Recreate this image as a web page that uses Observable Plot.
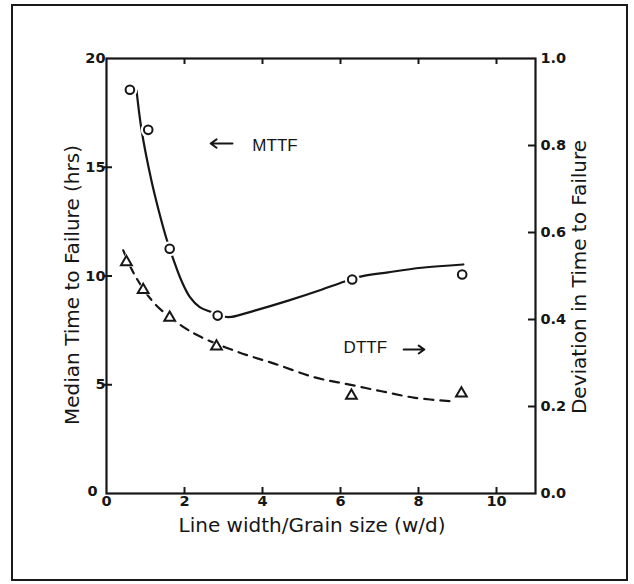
<!DOCTYPE html>
<html><head><meta charset="utf-8">
<script src="https://cdn.jsdelivr.net/npm/d3@7"></script>
<script src="https://cdn.jsdelivr.net/npm/@observablehq/plot@0.6"></script>
<style>
body{margin:0;background:#fff;}
#wrap{position:relative;width:634px;height:584px;background:#fff;}
#box{position:absolute;left:11px;top:4px;width:617px;height:577px;border:2.5px solid #1a1a1a;box-sizing:border-box;pointer-events:none;}
</style></head><body>
<div id="wrap"><div id="box"></div></div>
<script>
// Measured points
const mttfX = [0.60, 1.07, 1.62, 2.85, 6.30, 9.12];
const mttfY = [18.56, 16.72, 11.25, 8.18, 9.84, 10.07];      // hrs (left axis)
const dttfX = [0.51, 0.94, 1.62, 2.82, 6.28, 9.10];
const dttfY = [0.532, 0.468, 0.404, 0.338, 0.225, 0.230];    // deviation (right axis)

// Hand-drawn fit curves
const mttfFitX = [0.77, 0.90, 1.15, 1.34, 1.54, 1.71, 1.92, 2.14, 2.39, 2.69, 2.95, 3.20, 3.80, 4.66, 5.51, 5.98, 6.54, 7.22, 8.08, 9.15];
const mttfFitY = [18.53, 16.70, 14.40, 13.00, 11.70, 10.79, 9.79, 9.03, 8.57, 8.34, 8.15, 8.12, 8.41, 8.87, 9.37, 9.67, 9.98, 10.17, 10.38, 10.53];
const dttfFitX = [0.43, 0.73, 1.24, 1.92, 2.44, 3.38, 4.32, 5.34, 6.20, 7.05, 7.91, 8.85];
const dttfFitY = [0.559, 0.501, 0.436, 0.386, 0.359, 0.325, 0.298, 0.267, 0.251, 0.235, 0.220, 0.212];

// Ticks
const xTickLabels = [0, 2, 4, 6, 8, 10];
const xTickMarks = [2, 4, 6, 8, 10];
const yTickLabels = [5, 10, 15, 20];
const yZeroLabel = [0];
const yTickMarks = [5, 10, 15];
const rTickLabels = [0.0, 0.2, 0.4, 0.6, 0.8, 1.0];
const rTickMarks = [0.2, 0.4, 0.6, 0.8];
const rightMax = 1.0, leftMax = 20;
const k = leftMax / rightMax;

// Text
const xTitle = "Line width/Grain size (w/d)";
const yTitle = "Median Time to Failure (hrs)";
const rTitle = "Deviation in Time to Failure";
const annoLabels = ["MTTF", "DTTF"];
const annoX = [3.74, 6.08];
const annoY = [15.98, 6.71];
const arrowX1 = [3.23, 7.62], arrowX2 = [2.67, 8.15], arrowY = [16.09, 6.62];

const mttf = mttfX.map((x, i) => ({x, y: mttfY[i]}));
const dttf = dttfX.map((x, i) => ({x, y: dttfY[i]}));
const mttfFit = mttfFitX.map((x, i) => ({x, y: mttfFitY[i]}));
const dttfFit = dttfFitX.map((x, i) => ({x, y: dttfFitY[i]}));
const anno = annoLabels.map((t, i) => ({t, x: annoX[i], y: annoY[i]}));
const arrows = arrowX1.map((x1, i) => ({x1, x2: arrowX2[i], y: arrowY[i]}));

const ink = "#161616";
const tickFont = {fontSize: 14.5, fontWeight: "bold", fontFamily: "DejaVu Sans"};

const chart = Plot.plot({
  width: 634, height: 584,
  marginLeft: 106, marginRight: 99, marginTop: 58, marginBottom: 91,
  x: {domain: [0, 11]},
  y: {domain: [0, leftMax]},
  style: {fontFamily: "DejaVu Sans", color: ink, background: "white"},
  marks: [
    // fit curves
    Plot.line(mttfFit, {x: "x", y: "y", curve: "catmull-rom", stroke: ink, strokeWidth: 2.2}),
    Plot.line(dttfFit, {x: "x", y: d => d.y * k, curve: "catmull-rom", stroke: ink, strokeWidth: 2.2, strokeDasharray: "9,7"}),
    // white halos that break the curves around markers
    Plot.dot(mttf, {x: "x", y: "y", r: 7.5, fill: "white", stroke: "none"}),
    Plot.dot(dttf, {x: "x", y: d => d.y * k, r: 6, symbol: "triangle", fill: "white", stroke: "none"}),
    // markers
    Plot.dot(mttf, {x: "x", y: "y", r: 4.3, fill: "white", stroke: ink, strokeWidth: 2}),
    Plot.dot(dttf, {x: "x", y: d => d.y * k, r: 4, symbol: "triangle", fill: "white", stroke: ink, strokeWidth: 2}),
    // frame
    Plot.frame({stroke: ink, strokeWidth: 2.2}),
    // left axis
    Plot.axisY({anchor: "left", ticks: yTickLabels, tickSize: 0, tickPadding: 1, label: null, ...tickFont}),
    Plot.axisY({anchor: "left", ticks: yZeroLabel, tickSize: 0, tickPadding: 9, dy: -2, label: null, ...tickFont}),
    Plot.axisY({anchor: "left", ticks: yTickMarks, tickSize: 8, dx: 6, fill: "none", strokeWidth: 2, label: null}),
    // right axis
    Plot.axisY({anchor: "right", ticks: rTickLabels.map(v => v * k), tickFormat: d => (d / k).toFixed(1), tickSize: 0, tickPadding: 5, label: null, ...tickFont}),
    Plot.axisY({anchor: "right", ticks: rTickMarks.map(v => v * k), tickSize: 8, dx: -8, fill: "none", strokeWidth: 2, label: null}),
    // bottom / top axes
    Plot.axisX({anchor: "bottom", ticks: xTickLabels, tickSize: 0, tickPadding: 2, label: null, ...tickFont}),
    Plot.axisX({anchor: "bottom", ticks: xTickMarks, tickSize: 7, dy: -6, fill: "none", strokeWidth: 2, label: null}),
    Plot.axisX({anchor: "top", ticks: xTickMarks, tickSize: 5, dy: 5, fill: "none", strokeWidth: 2, label: null}),
    // axis titles
    Plot.text([xTitle], {text: d => d, frameAnchor: "bottom", textAnchor: "middle", lineAnchor: "middle", dx: -9, dy: 32, fontSize: 20, fill: ink, ariaLabel: "title"}),
    Plot.text([yTitle], {text: d => d, frameAnchor: "left", textAnchor: "middle", lineAnchor: "middle", dx: -34, dy: 9, rotate: -90, fontSize: 20, fill: ink, ariaLabel: "title"}),
    Plot.text([rTitle], {text: d => d, frameAnchor: "right", textAnchor: "middle", lineAnchor: "middle", dx: 44, dy: 1, rotate: -90, fontSize: 20, fill: ink, ariaLabel: "title"}),
    // annotations
    Plot.text(anno, {x: "x", y: "y", text: "t", textAnchor: "start", fontSize: 17, fontFamily: "Liberation Sans", fill: ink}),
    Plot.arrow(arrows, {x1: "x1", x2: "x2", y1: "y", y2: "y", stroke: ink, strokeWidth: 2, headLength: 9, headAngle: 70})
  ]
});
d3.select(chart).selectAll('g[aria-label="title"] text').attr("letter-spacing", "1.5px");
document.getElementById("wrap").prepend(chart);
</script>
</body></html>
